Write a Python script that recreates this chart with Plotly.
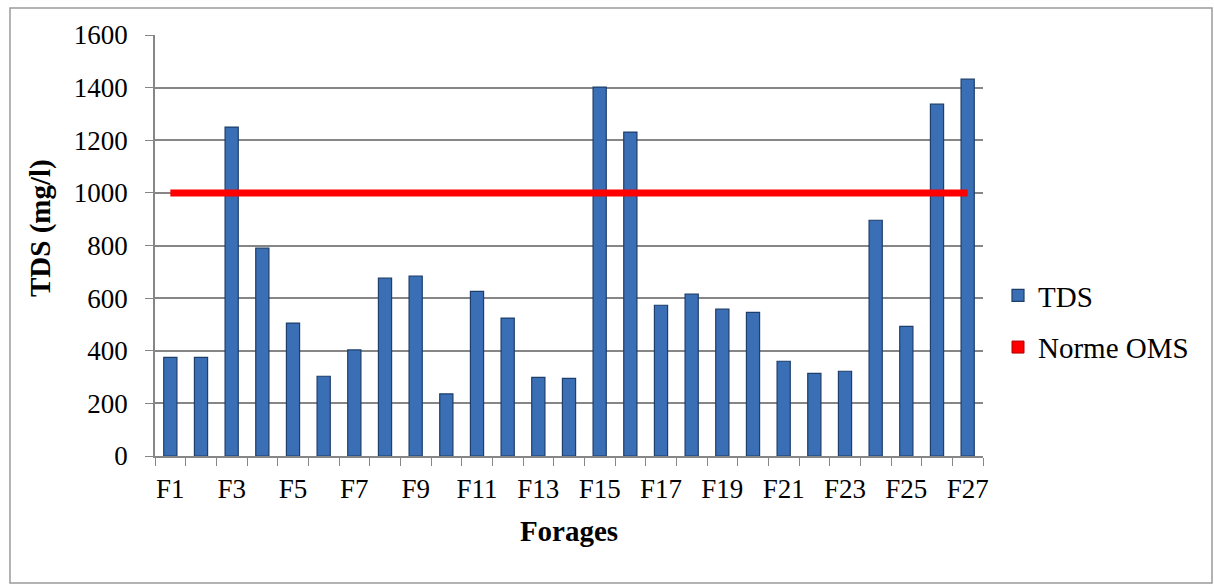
import plotly.graph_objects as go

categories = [f"F{i}" for i in range(1, 28)]
tds_values = [375, 375, 1250, 790, 505, 303, 403, 676, 684, 236, 626, 524, 299, 295,
              1402, 1231, 573, 615, 558, 546, 360, 314, 322, 896, 493, 1337, 1432]
norme_oms = [1000] * 27
tick_labels = [c if i % 2 == 0 else "" for i, c in enumerate(categories)]
y_ticks = list(range(0, 1601, 200))

FONT = "Times New Roman, Tinos, Liberation Serif, DejaVu Serif, serif"

fig = go.Figure()
fig.add_trace(go.Bar(
    x=categories, y=tds_values, name="TDS",
    marker=dict(color="#3A6EB5", line=dict(color="#1E3E6B", width=1.2)),
    width=0.43, legendgroup="a",
))
fig.add_trace(go.Scatter(
    x=categories, y=norme_oms, mode="lines", name="Norme OMS",
    line=dict(color="#FF0000", width=7), showlegend=False,
))
fig.add_trace(go.Bar(
    x=[None], y=[None], name="Norme OMS",
    marker=dict(color="#FF0000", line=dict(color="#B00000", width=1)),
    legendgroup="b",
))

L, R, T, B = 155, 983, 35, 456
W, H = 1214, 585
pw, ph = R - L, B - T

fig.update_layout(
    width=W, height=H,
    margin=dict(l=L, r=W - R, t=T, b=H - B),
    paper_bgcolor="white", plot_bgcolor="white",
    barmode="overlay",
    font=dict(family=FONT, size=26, color="black"),
    showlegend=True,
    legend=dict(x=(998 - L) / pw, y=(B - 270) / ph, xanchor="left", yanchor="top",
                font=dict(family=FONT, size=29, color="black"), tracegroupgap=11,
                traceorder="grouped", bgcolor="rgba(0,0,0,0)"),
    xaxis=dict(
        type="category", tickmode="array", tickvals=categories, ticktext=tick_labels,
        tickson="boundaries", ticks="outside", ticklen=8, tickcolor="#868686",
        showline=True, linecolor="#868686", linewidth=1.5, showgrid=False,
        tickangle=0, tickfont=dict(family=FONT, size=27, color="black"),
        ticklabelstandoff=8, range=[-0.5, 26.5],
        title=dict(text="<b>Forages</b>", font=dict(family=FONT, size=29, color="black"),
                   standoff=18),
    ),
    yaxis=dict(
        range=[0, 1600], tickvals=y_ticks, ticks="outside", ticklen=8,
        tickcolor="#868686", showline=True, linecolor="#868686", linewidth=1.5,
        showgrid=True, gridcolor="#868686", gridwidth=1.5, zeroline=False,
        tickfont=dict(family=FONT, size=27, color="black"), ticklabelstandoff=12,
    ),
    annotations=[dict(text="<b>TDS (mg/l)</b>", textangle=-90, showarrow=False,
                      xref="paper", yref="paper", x=(40 - L) / pw, y=(B - 228) / ph,
                      xanchor="center", yanchor="middle",
                      font=dict(family=FONT, size=29, color="black"))],
    shapes=[dict(type="rect", xref="paper", yref="paper",
                 x0=(10 - L) / pw, x1=(1212 - L) / pw,
                 y0=(B - 583) / ph, y1=(B - 8) / ph,
                 line=dict(color="#9A9A9A", width=1.5), layer="below")],
)

fig.write_html("out.html")
